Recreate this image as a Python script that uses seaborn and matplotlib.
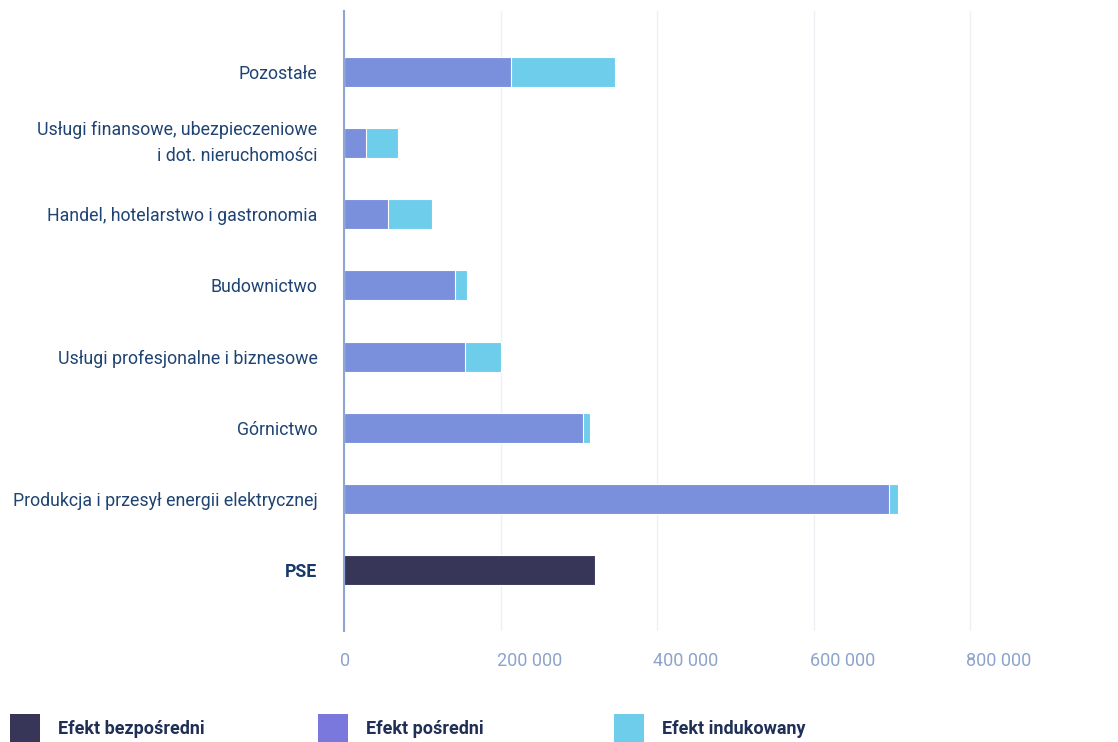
import matplotlib
matplotlib.use("Agg")
import matplotlib.pyplot as plt
import matplotlib.transforms as mtransforms
from matplotlib.patches import Rectangle
import seaborn as sns
import pandas as pd

# Sector breakdown of effects (values in persons)
categories = [
    "Pozostałe",
    "Usługi finansowe, ubezpieczeniowe\ni dot. nieruchomości",
    "Handel, hotelarstwo i gastronomia",
    "Budownictwo",
    "Usługi profesjonalne i biznesowe",
    "Górnictwo",
    "Produkcja i przesył energii elektrycznej",
    "PSE",
]
efekt_bezposredni = [0, 0, 0, 0, 0, 0, 0, 321000]
efekt_posredni = [213000, 28000, 56000, 142000, 154000, 305000, 696000, 0]
efekt_indukowany = [133000, 41000, 57000, 15000, 46000, 9000, 12000, 0]

series_labels = ["Efekt bezpośredni", "Efekt pośredni", "Efekt indukowany"]
x_ticks = [0, 200000, 400000, 600000, 800000]
x_tick_labels = ["0", "200 000", "400 000", "600 000", "800 000"]

C_DIRECT = "#373658"
C_INDIRECT = "#7b90dd"
C_INDIRECT_LEG = "#7b78dd"
C_INDUCED = "#6fcdec"
C_TEXT = "#1f4473"
C_TICK = "#8ea3cc"

df = pd.DataFrame({
    "kategoria": categories,
    "bezposredni": efekt_bezposredni,
    "posredni": efekt_posredni,
    "indukowany": efekt_indukowany,
})
df["suma"] = df["posredni"] + df["indukowany"]

sns.set_theme(style="white")
plt.rcParams["font.family"] = ["Roboto", "DejaVu Sans"]

fig = plt.figure(figsize=(11.18, 7.42), dpi=100)
ax = fig.add_axes([344 / 1118, 1 - 631 / 742, (1100 - 344) / 1118, (631 - 11) / 742])

bar_kw = dict(orient="h", width=0.42, edgecolor="white", linewidth=0.8, ax=ax)
sns.barplot(data=df, x="suma", y="kategoria", color=C_INDUCED, saturation=1, **bar_kw)
sns.barplot(data=df, x="posredni", y="kategoria", color=C_INDIRECT, saturation=1, **bar_kw)
sns.barplot(data=df, x="bezposredni", y="kategoria", color=C_DIRECT, saturation=1, **bar_kw)

ax.set_xlim(0, 966000)
ax.set_ylim(len(categories) - 1 + 0.85, -0.85)
ax.set_xlabel("")
ax.set_ylabel("")

ax.set_xticks(x_ticks)
ax.set_xticklabels(x_tick_labels)
ax.grid(axis="x", color="#eef0f5", linewidth=1)
ax.set_axisbelow(True)
for side in ("top", "right", "bottom"):
    ax.spines[side].set_visible(False)
ax.spines["left"].set_color("#8ea6d6")
ax.spines["left"].set_linewidth(1.5)

ax.tick_params(axis="x", length=0, pad=15, labelsize=13, labelcolor=C_TICK)
ax.tick_params(axis="y", length=0, pad=19, labelsize=12.8, labelcolor=C_TEXT)

shift = mtransforms.ScaledTranslation(-4 / 100, 0, fig.dpi_scale_trans)
for lbl in ax.get_xticklabels():
    lbl.set_horizontalalignment("left")
    lbl.set_transform(lbl.get_transform() + shift)

for lbl in ax.get_yticklabels():
    if "\n" in lbl.get_text():
        lbl.set_linespacing(1.6)
        lbl.set_verticalalignment("center")
    if lbl.get_text() == "PSE":
        lbl.set_fontweight("bold")
        lbl.set_color("#183a6b")

# Legend row at the bottom
legend_colors = [C_DIRECT, C_INDIRECT_LEG, C_INDUCED]
legend_x = [10, 318, 614]
W, H = 1118, 742
for x0, col, lab in zip(legend_x, legend_colors, series_labels):
    fig.patches.append(Rectangle((x0 / W, 0), 30 / W, (742 - 714) / H,
                                 transform=fig.transFigure, facecolor=col,
                                 edgecolor="none"))
    fig.text((x0 + 48) / W, 1 - 729 / H, lab, fontsize=13, fontweight="bold",
             color="#1f2f55", va="center", ha="left")

fig.savefig("out.png", dpi=100, facecolor="white")
